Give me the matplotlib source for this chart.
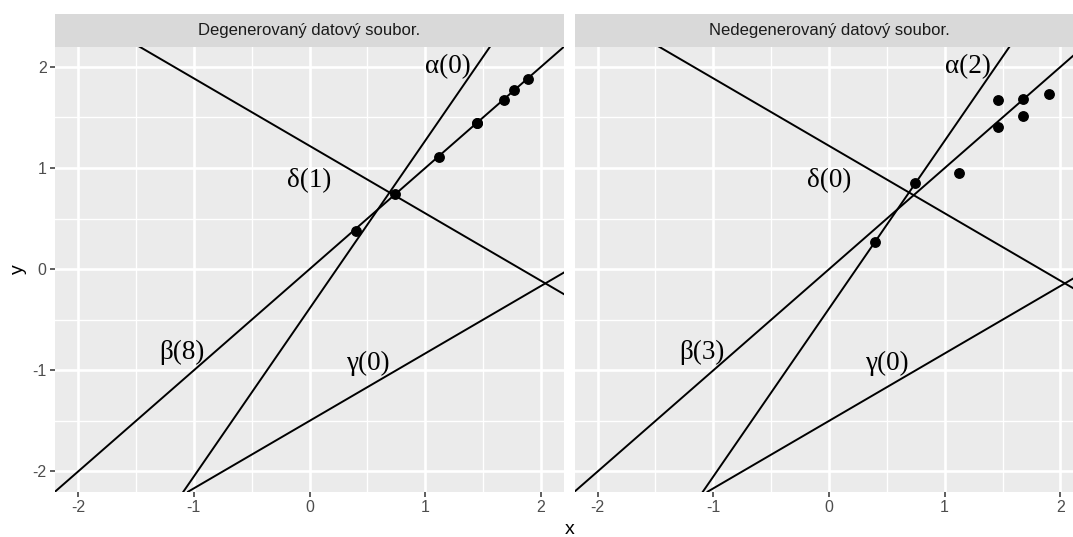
import matplotlib
matplotlib.use("Agg")
import matplotlib.pyplot as plt
from matplotlib.patches import Rectangle

plt.rcParams["axes.unicode_minus"] = False

# facet titles
panel_titles = ["Degenerovaný datový soubor.", "Nedegenerovaný datový soubor."]

# the four candidate lines y = slope * x + intercept
line_names = ["α", "β", "γ", "δ"]
line_slopes = [1.66, 1.0, 0.667, -0.667]
line_intercepts = [-0.39, 0.0, -1.5, 1.22]

# where the line labels sit
label_x = [1.2, -1.1, 0.5, 0.0]
label_y = [2.0, -0.82, -0.93, 0.88]

# number of points lying on each line, per data set
counts_degen = [0, 8, 0, 1]
counts_nondegen = [2, 3, 0, 0]

# data sets
degen_x = [0.40, 0.74, 1.12, 1.45, 1.45, 1.68, 1.77, 1.89]
degen_y = [0.38, 0.74, 1.11, 1.45, 1.45, 1.67, 1.77, 1.88]
nondegen_x = [0.40, 0.74, 1.12, 1.46, 1.46, 1.68, 1.68, 1.90]
nondegen_y = [0.27, 0.85, 0.95, 1.41, 1.67, 1.68, 1.51, 1.73]

x_ticks = [-2, -1, 0, 1, 2]
y_ticks = [-2, -1, 0, 1, 2]
x_minor = [-1.5, -0.5, 0.5, 1.5]
y_minor = [-1.5, -0.5, 0.5, 1.5]

W, H = 1073, 537
fig = plt.figure(figsize=(W / 100, H / 100), dpi=100, facecolor="white")

sans = ["Liberation Sans", "DejaVu Sans"]
serif = ["Liberation Serif", "DejaVu Serif"]

panel_w = 509
panel_top, panel_bot = 46.7, 491.7
strip_top = 14.0
panel_lefts = [55.0, 574.5]

panels = [
    (degen_x, degen_y, counts_degen),
    (nondegen_x, nondegen_y, counts_nondegen),
]

for i, (px, py, counts) in enumerate(panels):
    left = panel_lefts[i]
    ax = fig.add_axes([left / W, (H - panel_bot) / H,
                       panel_w / W, (panel_bot - panel_top) / H])
    ax.set_facecolor("#EBEBEB")
    ax.set_xlim(-2.2, 2.2)
    ax.set_ylim(-2.2, 2.2)
    ax.set_axisbelow(True)
    for s in ax.spines.values():
        s.set_visible(False)

    ax.set_xticks(x_ticks)
    ax.set_yticks(y_ticks)
    ax.set_xticks(x_minor, minor=True)
    ax.set_yticks(y_minor, minor=True)
    ax.grid(which="major", color="white", linewidth=1.9)
    ax.grid(which="minor", color="white", linewidth=0.95)
    ax.tick_params(which="major", length=3.6, width=1.1, color="#333333",
                   labelcolor="#4D4D4D", labelsize=11.5, pad=2.5)
    ax.tick_params(which="minor", length=0)
    for lab in ax.get_xticklabels() + ax.get_yticklabels():
        lab.set_family(sans)
    if i > 0:
        ax.tick_params(axis="y", which="major", length=0, labelleft=False)

    for slope, icpt in zip(line_slopes, line_intercepts):
        ax.axline((0, icpt), slope=slope, color="black", linewidth=1.4, zorder=3)

    ax.plot(px, py, "o", color="black", markersize=6.8, zorder=4)

    for name, cnt, lx, ly in zip(line_names, counts, label_x, label_y):
        ax.text(lx, ly, f"{name}({cnt})", family=serif, fontsize=19.5,
                ha="center", va="center", color="black", zorder=5)

    # facet strip
    fig.patches.append(Rectangle((left / W, (H - panel_top) / H),
                                 panel_w / W, (panel_top - strip_top) / H,
                                 transform=fig.transFigure,
                                 facecolor="#D9D9D9", edgecolor="none"))
    fig.text((left + panel_w / 2) / W, (H - (panel_top + strip_top) / 2) / H,
             panel_titles[i], ha="center", va="center", fontsize=12,
             color="#1A1A1A", family=sans)

fig.text(570 / W, (H - 530) / H, "x", ha="center", va="center",
         fontsize=14, color="black", family=sans)
fig.text(18 / W, (H - 269) / H, "y", ha="center", va="center",
         fontsize=14, color="black", family=sans, rotation=90)

fig.savefig("out.png", dpi=100)
